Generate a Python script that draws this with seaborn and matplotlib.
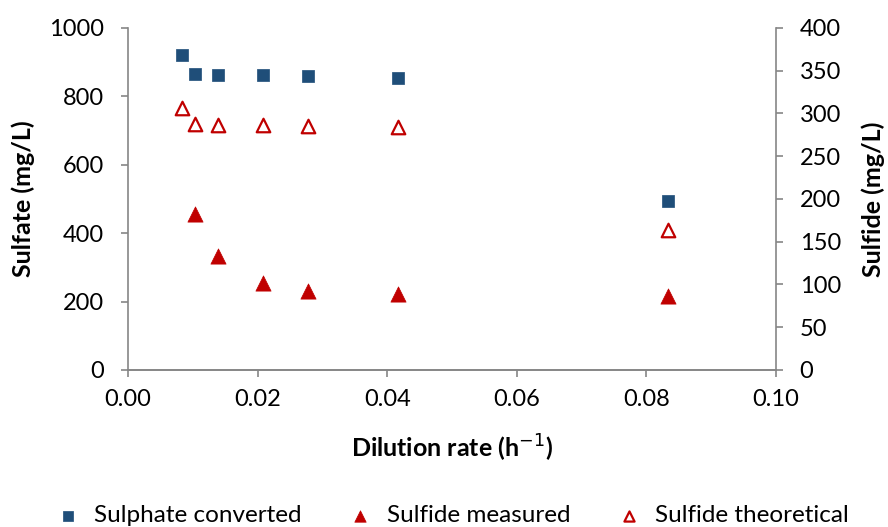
import matplotlib
matplotlib.use("Agg")
import matplotlib.pyplot as plt
import seaborn as sns
import pandas as pd
import numpy as np

# data
dilution_rate = [0.0083, 0.0104, 0.0139, 0.0208, 0.0278, 0.0417, 0.0833]
sulphate_converted = [920, 866, 862, 861, 858, 854, 494]
sulfide_measured = [np.nan, 182, 133, 102, 92, 89, 86]
sulfide_theoretical = [306, 288, 287, 286, 285, 284, 164]

x_ticks = [0.00, 0.02, 0.04, 0.06, 0.08, 0.10]
left_ticks = [0, 200, 400, 600, 800, 1000]
right_ticks = [0, 50, 100, 150, 200, 250, 300, 350, 400]

BLUE = "#1F4E79"
RED = "#C00000"
GREY = "#868686"

sns.set_style("white")
plt.rcParams["font.family"] = ["Lato", "DejaVu Sans"]
plt.rcParams["font.size"] = 17
plt.rcParams["text.color"] = "black"
plt.rcParams["axes.labelcolor"] = "black"

df = pd.DataFrame({"rate": dilution_rate,
                   "sulphate": sulphate_converted,
                   "measured": sulfide_measured,
                   "theoretical": sulfide_theoretical})

fig = plt.figure(figsize=(8.88, 5.27), dpi=100)
ax = fig.add_axes([0.144, 0.298, 0.730, 0.649])
ax2 = ax.twinx()

sns.scatterplot(data=df, x="rate", y="sulphate", ax=ax, marker="s", s=78,
                color=BLUE, edgecolor=BLUE, linewidth=0.5,
                label="Sulphate converted", legend=False)
sns.scatterplot(data=df.dropna(subset=["measured"]), x="rate", y="measured",
                ax=ax2, marker="^", s=120, color=RED, edgecolor=RED,
                linewidth=0.5, label="Sulfide measured", legend=False)
sns.scatterplot(data=df, x="rate", y="theoretical", ax=ax2, marker="^", s=95,
                facecolor="white", edgecolor=RED, linewidth=1.6,
                label="Sulfide theoretical", legend=False)

ax.set_xlim(0, 0.10)
ax.set_ylim(0, 1000)
ax2.set_ylim(0, 400)
ax.set_xticks(x_ticks)
ax.set_xticklabels([f"{t:.2f}" for t in x_ticks])
ax.set_yticks(left_ticks)
ax2.set_yticks(right_ticks)

for a in (ax, ax2):
    a.spines["top"].set_visible(False)
    for side in ("left", "right", "bottom"):
        a.spines[side].set_color(GREY)
        a.spines[side].set_linewidth(1.2)
    a.tick_params(direction="out", length=5, width=1.2, color=GREY,
                  labelcolor="black", labelsize=17)
ax.spines["right"].set_visible(False)
ax2.spines["left"].set_visible(False)
ax.tick_params(axis="x", bottom=True, pad=9)
ax.tick_params(axis="y", left=True, pad=12)
ax2.tick_params(axis="y", right=True, pad=12)

ax.set_xlabel("Dilution rate (h$^{-1}$)", fontweight="bold", fontsize=18)
ax.set_ylabel("Sulfate (mg/L)", fontweight="bold", fontsize=18)
ax2.set_ylabel("Sulfide (mg/L)", fontweight="bold", fontsize=18)
ax.xaxis.set_label_coords(0.5, -0.184)
ax.yaxis.set_label_coords(-0.143, 0.5)
ax2.yaxis.set_label_coords(1.132, 0.5)
ax.grid(False)
ax2.grid(False)

h1, l1 = ax.get_legend_handles_labels()
h2, l2 = ax2.get_legend_handles_labels()
fig.legend(h1 + h2, l1 + l2, loc="lower center", ncol=3, frameon=False,
           bbox_to_anchor=(0.508, -0.04), fontsize=17.5, markerscale=0.75,
           columnspacing=1.8, handletextpad=0.5, handlelength=1.2)

fig.savefig("out.png", dpi=100)
